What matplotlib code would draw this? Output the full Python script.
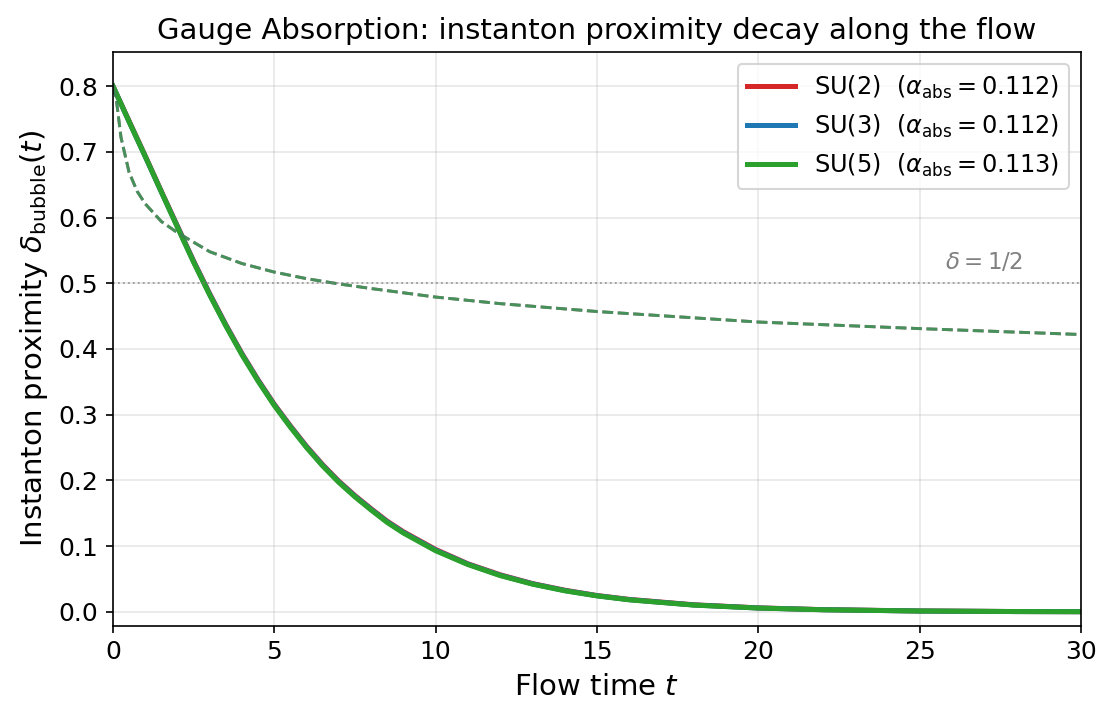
import numpy as np
from matplotlib import pyplot as plt

# tempo de fluxo e proximidade (curvas solidas)
t_solid = [0, 0.5, 1, 1.5, 2, 2.5, 3, 3.5, 4, 4.5, 5, 5.5, 6, 6.5, 7, 7.5, 8, 8.5, 9, 10,
           11, 12, 13, 14, 15, 16, 18, 20, 22, 25, 28, 30]
delta_su2 = [0.800, 0.747, 0.694, 0.640, 0.587, 0.534, 0.484, 0.437, 0.393, 0.353, 0.316,
             0.283, 0.252, 0.224, 0.199, 0.177, 0.157, 0.138, 0.122, 0.095, 0.0732, 0.0565,
             0.0431, 0.0330, 0.0249, 0.0190, 0.0108, 0.0061, 0.0034, 0.0014, 0.0005, 0.0003]
delta_su3 = [0.800, 0.746, 0.693, 0.639, 0.586, 0.533, 0.483, 0.436, 0.392, 0.352, 0.315,
             0.282, 0.251, 0.223, 0.198, 0.176, 0.156, 0.137, 0.121, 0.094, 0.0726, 0.0558,
             0.0427, 0.0325, 0.0246, 0.0186, 0.0105, 0.0059, 0.0033, 0.0013, 0.0005, 0.0003]
delta_su5 = [0.800, 0.746, 0.693, 0.639, 0.585, 0.532, 0.482, 0.435, 0.391, 0.351, 0.314,
             0.281, 0.250, 0.222, 0.197, 0.175, 0.155, 0.136, 0.120, 0.093, 0.0720, 0.0552,
             0.0422, 0.0321, 0.0243, 0.0183, 0.0103, 0.0058, 0.0032, 0.0013, 0.0005, 0.0003]

# curvas tracejadas
t_dash = [0, 0.1, 0.25, 0.5, 0.75, 1, 1.5, 2, 3, 4, 5, 6, 7, 8, 10, 12, 15, 20, 25, 30]
dash_vals = [0.800, 0.782, 0.722, 0.669, 0.640, 0.621, 0.594, 0.577, 0.548, 0.530, 0.517,
             0.507, 0.499, 0.492, 0.479, 0.469, 0.457, 0.441, 0.431, 0.422]

rotulos = ['SU(2)', 'SU(3)', 'SU(5)']
alphas = [0.112, 0.112, 0.113]
cores = ['#d62728', '#1f77b4', '#2ca02c']

fig, ax = plt.subplots(figsize=(7.38, 4.74), dpi=150)
fig.subplots_adjust(left=0.102, right=0.9765, top=0.927, bottom=0.12)

for serie, rot, a, cor in zip([delta_su2, delta_su3, delta_su5], rotulos, alphas, cores):
    ax.plot(t_solid, serie, color=cor, lw=2.4,
            label=rot + r'  ($\alpha_{\rm abs} = %.3f$)' % a)

for cor in cores:
    ax.plot(t_dash, dash_vals, color=cor, lw=1.4, ls='--', alpha=0.6)

ax.axhline(0.5, color='gray', ls=':', lw=0.9, alpha=0.7)
ax.text(27.0, 0.514, r'$\delta = 1/2$', color='gray', fontsize=11, ha='center', va='bottom')

ax.set_xlim(0, 30)
ax.set_ylim(-0.021, 0.852)
ax.tick_params(labelsize=12)
ax.set_xlabel('Flow time $t$', fontsize=14)
ax.set_ylabel(r'Instanton proximity $\delta_{\rm bubble}(t)$', fontsize=14)
ax.set_title('Gauge Absorption: instanton proximity decay along the flow', fontsize=14)
ax.grid(True, alpha=0.3)
ax.legend(loc='upper right', fontsize=11.5)

fig.savefig('out.png')
